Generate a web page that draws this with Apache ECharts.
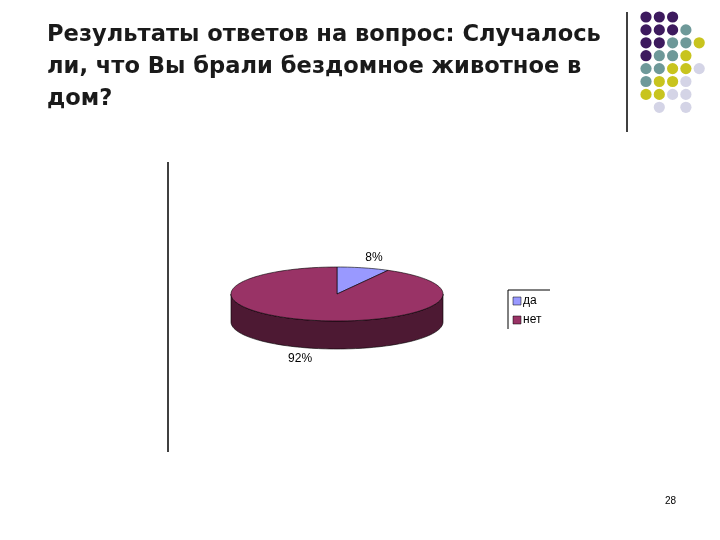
<!DOCTYPE html>
<html><head><meta charset="utf-8">
<script src="https://cdn.jsdelivr.net/npm/echarts@6/dist/echarts.min.js"></script>
<style>html,body{margin:0;padding:0;background:#fff}#c{width:720px;height:540px}</style>
</head><body><div id="c"></div>
<script>
// данные диаграммы
var categories = ['да', 'нет'];
var values = [8, 92];
var topColors = ['#9999ff', '#993366'];
var sideColors = ['#4c2a6e', '#4d1933'];
// декоративные точки: строки сетки
var dotRows = ['PPP', 'PPPT', 'PPTTY', 'PTTY', 'TTYYL', 'TYYL', 'YYLL', '.L.L'];
var dotColors = {P: '#3d1a5e', T: '#6e9999', Y: '#c8c41e', L: '#d4d4e6'};

var chart = echarts.init(document.getElementById('c'));
var cx = 337, cy = 294, rx = 106, ry = 27, depth = 28;
var total = values.reduce(function (a, b) { return a + b; }, 0);
var starts = [], acc = 0;
values.forEach(function (v) { starts.push(acc / total * 360); acc += v; });

function pt(deg, yOff) {
    var r = deg * Math.PI / 180;
    return [cx + rx * Math.sin(r), cy - ry * Math.cos(r) + (yOff || 0)];
}
function arc(a, b, yOff) {
    var pts = [], n = Math.max(2, Math.ceil(Math.abs(b - a) / 2));
    for (var i = 0; i <= n; i++) pts.push(pt(a + (b - a) * i / n, yOff));
    return pts;
}

var dotGraphics = [];
dotRows.forEach(function (row, r) {
    row.split('').forEach(function (ch, c) {
        if (dotColors[ch]) dotGraphics.push({type: 'circle', shape: {cx: 646 + c * 13.3, cy: 17 + r * 12.9, r: 5.6}, style: {fill: dotColors[ch]}});
    });
});
var legendGraphics = [
    {type: 'polyline', shape: {points: [[508, 329], [508, 290], [550, 290]]}, style: {stroke: '#000', lineWidth: 1, fill: null}}
];
categories.forEach(function (name, i) {
    legendGraphics.push({type: 'rect', shape: {x: 513, y: 297 + i * 19, width: 8, height: 8}, style: {fill: topColors[i], stroke: '#000', lineWidth: 0.5}});
    legendGraphics.push({type: 'text', style: {x: 523, y: 301 + i * 19, text: name, fill: '#000', font: '12px "Liberation Sans", Arial', verticalAlign: 'middle'}});
});

option = {
    backgroundColor: '#fff',
    title: {
        text: 'Результаты ответов на вопрос: Случалось\nли, что Вы брали бездомное животное в\nдом?',
        left: 42, top: 14,
        textStyle: {fontFamily: 'DejaVu Sans', fontWeight: 'bold', fontSize: 22.6, lineHeight: 32, color: '#1a1a1a'}
    },
    graphic: [
        {type: 'line', shape: {x1: 627, y1: 12, x2: 627, y2: 132}, style: {stroke: '#000', lineWidth: 1.5}},
        {type: 'line', shape: {x1: 168, y1: 162, x2: 168, y2: 452}, style: {stroke: '#000', lineWidth: 1.5}},
        {type: 'text', style: {x: 665, y: 496, text: '28', fill: '#000', font: '10px "Liberation Sans", Arial'}}
    ].concat(dotGraphics, legendGraphics),
    series: [{
        type: 'custom',
        coordinateSystem: 'none',
        data: values.map(function (v, i) { return [i, v]; }),
        renderItem: function (params) {
            var i = params.dataIndex;
            var a = starts[i], b = a + values[i] / total * 360;
            var children = [];
            var s = Math.max(a, 90), e = Math.min(b, 270);
            if (e > s) {
                var top = arc(s, e, 0), bot = arc(e, s, depth);
                children.push({type: 'polygon', shape: {points: top.concat(bot)}, style: {fill: sideColors[i], stroke: '#000', lineWidth: 0.6}});
            }
            children.push({type: 'polygon', shape: {points: [[cx, cy]].concat(arc(a, b, 0))}, style: {fill: topColors[i], stroke: '#000', lineWidth: 0.6}});
            var m = (a + b) / 2, mr = m * Math.PI / 180;
            var lx = cx + rx * 1.4 * Math.sin(mr), ly = cy - ry * 1.4 * Math.cos(mr);
            if (Math.cos(mr) < 0) ly += depth;
            children.push({type: 'text', style: {x: lx, y: ly, text: values[i] + '%', fill: '#000', font: '12px "Liberation Sans", Arial', align: 'center', verticalAlign: 'middle'}});
            return {type: 'group', children: children};
        }
    }]
};
chart.setOption(option);
</script></body></html>
